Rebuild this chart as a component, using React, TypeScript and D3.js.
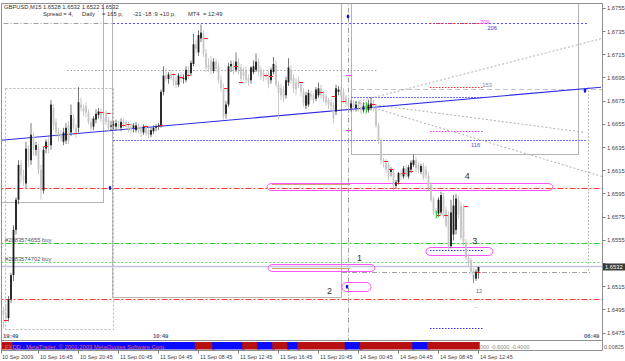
import React from 'react';
import * as d3 from 'd3';

const W = 625;
const H = 361;

// ---- OHLC data (GBPUSD M15, bars from 10 Sep 12:45 to 14 Sep 12:45) ----
const opens = [
1.6504,1.6499,1.6495,1.6491,1.6488,1.6504,1.6525,1.6564,1.6590,1.6620,
1.6611,1.6604,1.6634,1.6624,1.6644,1.6633,1.6634,1.6616,1.6598,1.6634,
1.6640,1.6637,1.6669,1.6657,1.6648,1.6646,1.6640,1.6641,1.6654,1.6648,
1.6660,1.6652,1.6652,1.6672,1.6669,1.6671,1.6665,1.6657,1.6653,1.6659,
1.6663,1.6666,1.6660,1.6664,1.6659,1.6653,1.6654,1.6653,1.6655,1.6652,
1.6657,1.6657,1.6654,1.6653,1.6652,1.6650,1.6654,1.6652,1.6648,1.6653,
1.6650,1.6646,1.6649,1.6652,1.6653,1.6654,1.6683,1.6697,1.6694,1.6698,
1.6695,1.6692,1.6689,1.6697,1.6694,1.6693,1.6702,1.6699,1.6707,1.6724,
1.6717,1.6729,1.6733,1.6716,1.6706,1.6710,1.6701,1.6709,1.6705,1.6693,
1.6686,1.6664,1.6672,1.6705,1.6707,1.6702,1.6709,1.6704,1.6700,1.6702,
1.6695,1.6693,1.6700,1.6702,1.6709,1.6702,1.6699,1.6697,1.6698,1.6693,
1.6700,1.6706,1.6689,1.6686,1.6685,1.6680,1.6691,1.6702,1.6695,1.6691,
1.6693,1.6689,1.6683,1.6671,1.6672,1.6681,1.6680,1.6677,1.6680,1.6686,
1.6681,1.6679,1.6676,1.6674,1.6672,1.6666,1.6683,1.6685,1.6683,1.6678,
1.6674,1.6669,1.6673,1.6669,1.6672,1.6670,1.6667,1.6671,1.6667,1.6669,
1.6673,1.6669,1.6654,1.6641,1.6624,1.6622,1.6620,1.6614,1.6614,1.6602,
1.6605,1.6613,1.6610,1.6617,1.6610,1.6616,1.6620,1.6624,1.6620,1.6614,
1.6619,1.6616,1.6611,1.6603,1.6591,1.6581,1.6578,1.6579,1.6593,1.6581,
1.6577,1.6550,1.6560,1.6564,1.6590,1.6585,1.6584,1.6553,1.6540,1.6538,
1.6529,1.6522,1.6528];
const highs = [
1.6507,1.6502,1.6498,1.6500,1.6507,1.6527,1.6568,1.6592,1.6624,1.6624,
1.6616,1.6640,1.6637,1.6656,1.6648,1.6640,1.6638,1.6620,1.6636,1.6642,
1.6644,1.6676,1.6672,1.6660,1.6652,1.6650,1.6652,1.6656,1.6658,1.6672,
1.6664,1.6655,1.6687,1.6678,1.6672,1.6674,1.6668,1.6660,1.6662,1.6668,
1.6669,1.6669,1.6663,1.6667,1.6661,1.6658,1.6658,1.6659,1.6658,1.6660,
1.6660,1.6659,1.6657,1.6655,1.6656,1.6657,1.6656,1.6654,1.6655,1.6655,
1.6652,1.6652,1.6654,1.6655,1.6656,1.6685,1.6705,1.6703,1.6700,1.6702,
1.6699,1.6696,1.6699,1.6700,1.6698,1.6705,1.6705,1.6710,1.6733,1.6728,
1.6736,1.6741,1.6736,1.6720,1.6712,1.6714,1.6712,1.6712,1.6708,1.6697,
1.6690,1.6675,1.6708,1.6710,1.6710,1.6717,1.6712,1.6707,1.6704,1.6705,
1.6698,1.6705,1.6710,1.6716,1.6712,1.6705,1.6702,1.6700,1.6701,1.6704,
1.6713,1.6710,1.6692,1.6690,1.6688,1.6696,1.6712,1.6706,1.6698,1.6695,
1.6696,1.6692,1.6686,1.6683,1.6685,1.6684,1.6682,1.6687,1.6691,1.6689,
1.6684,1.6681,1.6678,1.6677,1.6674,1.6689,1.6688,1.6688,1.6686,1.6680,
1.6677,1.6676,1.6676,1.6675,1.6675,1.6673,1.6674,1.6676,1.6676,1.6678,
1.6676,1.6671,1.6656,1.6643,1.6626,1.6625,1.6622,1.6618,1.6616,1.6607,
1.6614,1.6616,1.6619,1.6620,1.6620,1.6624,1.6629,1.6627,1.6622,1.6621,
1.6622,1.6619,1.6614,1.6605,1.6593,1.6583,1.6592,1.6597,1.6596,1.6584,
1.6580,1.6590,1.6594,1.6595,1.6593,1.6588,1.6586,1.6556,1.6543,1.6540,
1.6531,1.6530,1.6532];
const lows = [
1.6495,1.6490,1.6479,1.6484,1.6485,1.6501,1.6520,1.6560,1.6586,1.6604,
1.6602,1.6600,1.6618,1.6620,1.6628,1.6628,1.6612,1.6590,1.6595,1.6630,
1.6630,1.6633,1.6650,1.6644,1.6640,1.6640,1.6637,1.6638,1.6638,1.6645,
1.6650,1.6643,1.6648,1.6666,1.6662,1.6661,1.6655,1.6648,1.6650,1.6656,
1.6660,1.6657,1.6652,1.6654,1.6648,1.6650,1.6651,1.6650,1.6649,1.6649,
1.6652,1.6650,1.6648,1.6647,1.6648,1.6648,1.6647,1.6644,1.6646,1.6645,
1.6643,1.6644,1.6647,1.6649,1.6650,1.6652,1.6680,1.6692,1.6690,1.6693,
1.6688,1.6686,1.6687,1.6691,1.6690,1.6691,1.6694,1.6697,1.6705,1.6716,
1.6714,1.6726,1.6713,1.6700,1.6700,1.6698,1.6699,1.6700,1.6690,1.6683,
1.6659,1.6660,1.6670,1.6700,1.6698,1.6700,1.6698,1.6690,1.6693,1.6690,
1.6688,1.6690,1.6698,1.6700,1.6697,1.6693,1.6692,1.6693,1.6686,1.6690,
1.6698,1.6687,1.6659,1.6676,1.6674,1.6677,1.6688,1.6690,1.6682,1.6680,
1.6686,1.6679,1.6670,1.6668,1.6670,1.6676,1.6673,1.6675,1.6678,1.6677,
1.6674,1.6671,1.6668,1.6666,1.6656,1.6663,1.6680,1.6678,1.6673,1.6670,
1.6667,1.6666,1.6666,1.6666,1.6666,1.6664,1.6665,1.6663,1.6665,1.6667,
1.6666,1.6652,1.6638,1.6620,1.6618,1.6613,1.6607,1.6610,1.6597,1.6599,
1.6603,1.6607,1.6608,1.6609,1.6608,1.6613,1.6618,1.6614,1.6613,1.6612,
1.6607,1.6608,1.6598,1.6588,1.6577,1.6574,1.6575,1.6577,1.6574,1.6566,
1.6547,1.6548,1.6555,1.6560,1.6574,1.6555,1.6550,1.6538,1.6533,1.6526,
1.6519,1.6520,1.6522];
const closes = [
1.6499,1.6495,1.6491,1.6488,1.6504,1.6525,1.6564,1.6590,1.6620,1.6611,
1.6607,1.6634,1.6624,1.6646,1.6633,1.6637,1.6616,1.6598,1.6633,1.6640,
1.6636,1.6672,1.6654,1.6648,1.6646,1.6643,1.6648,1.6652,1.6641,1.6663,
1.6652,1.6647,1.6674,1.6669,1.6666,1.6665,1.6657,1.6652,1.6660,1.6664,
1.6666,1.6660,1.6655,1.6657,1.6652,1.6654,1.6655,1.6656,1.6653,1.6657,
1.6655,1.6653,1.6651,1.6650,1.6654,1.6654,1.6649,1.6648,1.6653,1.6647,
1.6646,1.6650,1.6652,1.6653,1.6654,1.6683,1.6697,1.6694,1.6698,1.6695,
1.6692,1.6689,1.6697,1.6694,1.6695,1.6702,1.6697,1.6708,1.6724,1.6720,
1.6732,1.6734,1.6716,1.6704,1.6703,1.6701,1.6709,1.6703,1.6693,1.6686,
1.6662,1.6672,1.6705,1.6707,1.6702,1.6709,1.6702,1.6694,1.6697,1.6693,
1.6691,1.6704,1.6705,1.6709,1.6700,1.6697,1.6695,1.6696,1.6690,1.6702,
1.6707,1.6689,1.6682,1.6680,1.6678,1.6693,1.6704,1.6693,1.6686,1.6685,
1.6689,1.6683,1.6673,1.6680,1.6682,1.6679,1.6676,1.6685,1.6686,1.6680,
1.6677,1.6674,1.6672,1.6671,1.6660,1.6686,1.6685,1.6680,1.6676,1.6673,
1.6671,1.6673,1.6669,1.6672,1.6669,1.6667,1.6671,1.6669,1.6672,1.6673,
1.6669,1.6654,1.6641,1.6624,1.6622,1.6616,1.6610,1.6616,1.6602,1.6605,
1.6613,1.6611,1.6617,1.6611,1.6618,1.6622,1.6624,1.6617,1.6616,1.6619,
1.6609,1.6611,1.6600,1.6590,1.6579,1.6578,1.6590,1.6594,1.6576,1.6568,
1.6550,1.6579,1.6585,1.6591,1.6577,1.6557,1.6553,1.6540,1.6536,1.6528,
1.6522,1.6528,1.6532];

// small red markers (bar, price) and green markers (bar, from, to)
const redMarkBars = [3,19,31,41,44,50,52,59,65,70,73,76,83,91,95,97,107,109,121,129,134,138,150,155,157,160,162,165,176,179,187,192];
const redMarkPrices = [1.6486,1.6636,1.6647,1.6665,1.6664,1.6654,1.6655,1.6653,1.6654,1.6698,1.6695,1.6697,1.6729,1.6686,1.6705,1.6691,1.6697,1.6696,1.6691,1.6682,1.6679,1.6675,1.6672,1.6623,1.6616,1.6604,1.6613,1.6614,1.6576,1.6576,1.6584,1.6527];
const greenMarks = [[147, 1.6674, 1.6665], [175, 1.6580, 1.6574], [190, 1.6525, 1.6518]];

// axis labels
const priceTicks = [1.6755,1.6735,1.6715,1.6695,1.6675,1.6655,1.6635,1.6615,1.6595,1.6575,1.6555,1.6535,1.6515,1.6495,1.6475];
const timeTickBars = [0,16,32,48,64,80,96,112,128,144,160,176,192];
const timeTickLabels = ["10 Sep 2009","10 Sep 16:45","10 Sep 20:45","11 Sep 00:45","11 Sep 04:45","11 Sep 08:45","11 Sep 12:45","11 Sep 16:45","11 Sep 20:45","14 Sep 00:45","14 Sep 04:45","14 Sep 08:45","14 Sep 12:45"];

// levels and objects
const bidPrice = 1.6532;
const orderPrices = [1.6552, 1.6536];
const orderLabels = ["#2083574655 buy", "#2083574702 buy"];
const redLevels = [1.6600, 1.6504];
const trendBars = [0, 241];
const trendPrices = [1.6641, 1.6687];
const fanOrigin = [142.6, 1.6674];
const fanEndBars = [241.4, 234.6, 241.4];
const fanEndPrices = [1.6729, 1.6648, 1.6610];
const boxes = [[-3, 1.6770, 41.8, 1.6587], [45.8, 1.6770, 137.4, 1.6505], [141, 1.6770, 231.8, 1.6629]];
const dashedBox = [2.6, 1.6686, 45.8, 1.6478];
const ellipses = [[107.4, 1.6604, 221.8, 1.6598], [107.8, 1.6534, 150.6, 1.6528], [137.4, 1.6519, 149, 1.6511], [171, 1.6549, 197.8, 1.6542]];
const ellipseLabels = ["4", "1", "2", "3"];
const ellipseLabelBars = [186.5, 143.4, 131.4, 189.5];
const ellipseLabelPrices = [1.6608, 1.6537, 1.6509, 1.6552];
const arrowBars = [139.8, 44.6, 139.4, 234.6];
const arrowPrices = [1.6748, 1.6600, 1.6515, 1.6684];
const indSegments = [[0,6,'r'],[6,79,'b'],[79,86,'r'],[86,98,'b'],[98,104,'r'],[104,110,'b'],[110,116,'r'],[116,120,'b'],[120,139,'r'],[139,145,'b'],[145,166,'r'],[166,172,'b'],[172,192,'r']];

const FONT = '"Liberation Sans", Arial, sans-serif';

export default function App() {
  const x = d3.scaleLinear().domain([0, 192]).range([-1.5, 478.5]);
  const y = d3.scaleLinear().domain([1.6475, 1.6755]).range([333.1, 8.3]);
  const L = 1.5, R = 602.5, T = 3.5, B = 340.5, IB = 350.5;
  const xR = x.invert(R);
  const crisp = (v: number) => Math.round(v - 0.5) + 0.5;
  const seg = (b1: number, p1: number, b2: number, p2: number, stroke: string, dash?: string, sw = 1, key?: any) => {
    let X1 = x(b1), X2 = x(b2), Y1 = y(p1), Y2 = y(p2);
    if (p1 === p2) { Y1 = Y2 = crisp(Y1); }
    if (b1 === b2) { X1 = X2 = crisp(X1); }
    return <line key={key} x1={X1} y1={Y1} x2={X2} y2={Y2} stroke={stroke} strokeWidth={sw} strokeDasharray={dash} />;
  };
  const shortFrom = 172.6, shortTo = 193.8;
  const trendLine = d3.line<[number, number]>().x(d => x(d[0])).y(d => y(d[1]));
  const bidY = y(bidPrice);

  return (
    <svg width={W} height={H} style={{ position: 'absolute', left: 0, top: 0, background: '#fff' }} fontFamily={FONT}>
      <defs>
        <clipPath id="plot"><rect x={L} y={T} width={R - L} height={B - T} /></clipPath>
      </defs>
      <rect x={0} y={0} width={W} height={H} fill="#fff" />
      <g clipPath="url(#plot)">
        {/* gray boxes */}
        {boxes.map((b, i) => (
          <rect key={'bx' + i} x={crisp(x(b[0]))} y={crisp(y(b[1]))} width={Math.round(x(b[2]) - x(b[0]))} height={Math.round(y(b[3]) - y(b[1]))} fill="none" stroke="#b4b4b4" strokeWidth={1} />
        ))}
        <rect x={crisp(x(dashedBox[0]))} y={crisp(y(dashedBox[1]))} width={Math.round(x(dashedBox[2]) - x(dashedBox[0]))} height={Math.round(y(dashedBox[3]) - y(dashedBox[1]))} fill="none" stroke="#b4b4b4" strokeDasharray="2,2" />
        {seg(27.4, 1.6701, 151.8, 1.6701, '#a8a8a8', '1.5,2')}
        {/* verticals */}
        {seg(139.8, 1.6790, 139.8, 1.6440, '#a0a0a0', '5,2,1,2')}
        {seg(235.8, 1.6687, 235.8, 1.6527, '#a8a8a8', '1.5,2')}
        {seg(137.4, 1.6527, 236.6, 1.6527, '#a0a0a0', '5,2,1,2')}
        {/* top levels */}
        {seg(-2, 1.6742, 45.8, 1.6742, '#a0a0a0', '5,2,1,2')}
        {seg(45.8, 1.6742, 235.4, 1.6742, '#5050ff', '2,2')}
        {seg(45.8, 1.6641, 235.4, 1.6641, '#7070ff', '2,1')}
        {seg(141, 1.6678, 193.8, 1.6678, '#7070ff', '2,1')}
        {seg(141, 1.6685, xR, 1.6685, '#c4c4c4', '5,3', 1)}
        {seg(shortFrom, 1.6742, shortTo, 1.6742, '#ff3030', '1.5,1.5')}
        {seg(shortFrom, 1.6687, shortTo, 1.6687, '#ff3030', '1.5,1.5')}
        {seg(shortFrom, 1.6649, shortTo, 1.6649, '#ff30ff', '1.5,1.5')}
        {seg(shortFrom, 1.6546, shortTo, 1.6546, '#3030ff', '1.5,1.5')}
        {seg(shortFrom, 1.6479, shortTo, 1.6479, '#3030ff', '1.5,1.5')}
        {/* fan */}
        {fanEndBars.map((b, i) => seg(fanOrigin[0], fanOrigin[1], b, fanEndPrices[i], '#b0b0b0', '2,2', 1, 'fan' + i))}
        {/* red levels */}
        {redLevels.map((p, i) => seg(-2, p, xR, p, '#ff3c3c', '6,2,2,2', 1, 'rl' + i))}
        {/* order levels */}
        {seg(-2, orderPrices[0], xR, orderPrices[0], '#2ccc2c', '6,2,2,2')}
        {seg(-2, orderPrices[1], xR, orderPrices[1], '#66dd66', '2,2')}
        {orderLabels.map((t, i) => (
          <text key={'ol' + i} x={5} y={y(orderPrices[i]) - 1.5} fontSize={5.8} fill="#555">{t}</text>
        ))}
        {/* bid line */}
        {seg(-2, bidPrice, xR, bidPrice, '#c4c4dc', undefined, 1.6)}
        {/* trend line */}
        <path d={trendLine(trendBars.map((b, i) => [b, trendPrices[i]]) as [number, number][]) || ''} stroke="#2c2ce8" strokeWidth={1.1} fill="none" />
        {/* ellipses */}
        {ellipses.map((e, i) => (
          <rect key={'el' + i} x={x(e[0])} y={crisp(y(e[1]))} width={x(e[2]) - x(e[0])} height={Math.round(y(e[3]) - y(e[1]))} rx={5} ry={4} fill="none" stroke="#ff50ff" strokeWidth={1} />
        ))}
        {seg(109.4, 1.6603, 140.6, 1.6603, '#d0a070', undefined, 1)}
        {seg(109.4, 1.6531, 140.6, 1.6531, '#d0a070', undefined, 1)}
        {/* magenta ticks */}
        {seg(139.0, 1.6697, 141.0, 1.6697, '#ff40ff', undefined, 1)}
        {seg(139.0, 1.6650, 141.0, 1.6650, '#ff40ff', undefined, 1)}
        {/* candles */}
        {opens.map((o, i) => {
          const c = closes[i];
          const bull = c >= o;
          const top = y(Math.max(o, c));
          const h = Math.max(0.7, y(Math.min(o, c)) - top);
          return (
            <g key={'c' + i}>
              <line x1={x(i)} x2={x(i)} y1={y(highs[i])} y2={y(lows[i])} stroke={bull ? '#555' : '#bdbdbd'} strokeWidth={0.8} />
              <rect x={x(i) - 0.9} y={top} width={1.8} height={h} fill={bull ? '#1c1c1c' : '#c6c6c6'} />
            </g>
          );
        })}
        {redMarkBars.map((b, i) => seg(b - 0.8, redMarkPrices[i], b + 0.8, redMarkPrices[i], '#ff2020', undefined, 1, 'rm' + i))}
        {greenMarks.map((g, i) => seg(g[0], g[1], g[0], g[2], '#20d020', undefined, 0.9, 'gm' + i))}
        {/* arrows */}
        {arrowBars.map((b, i) => (
          <ellipse key={'ar' + i} cx={x(b)} cy={y(arrowPrices[i])} rx={1.3} ry={2} fill="#1010e0" />
        ))}
        {/* texts on chart */}
        <text x={x(192.6)} y={y(1.6742) + 1} fontSize={5.8} fill="#ff30ff">209</text>
        <text x={x(195.5)} y={y(1.6742) + 6.5} fontSize={5.8} fill="#4040c0">206</text>
        <text x={x(193.5)} y={y(1.6685) - 3} fontSize={5.8} fill="#888">153</text>
        <text x={x(189)} y={y(1.6641) + 6} fontSize={5.8} fill="#5050d0">116</text>
        {ellipseLabels.map((t, i) => (
          <text key={'elt' + i} x={x(ellipseLabelBars[i])} y={y(ellipseLabelPrices[i])} fontSize={9} fill="#333">{t}</text>
        ))}
        <text x={x(191)} y={y(1.6510)} fontSize={5.5} fill="#666">12</text>
        <text x={x(190.2)} y={y(1.6497)} fontSize={5.5} fill="#666">...</text>
        {/* bottom time stamps */}
        <text x={3} y={338} fontSize={6} fontWeight="bold" fill="#55607a">19:49</text>
        <text x={153} y={338} fontSize={6} fontWeight="bold" fill="#55607a">10:49</text>
        <text x={584} y={338} fontSize={6} fontWeight="bold" fill="#55607a">06:49</text>
      </g>

      {/* header */}
      <text x={4} y={8.5} fontSize={5.8} fill="#333">GBPUSD,M15  1.6528 1.6532 1.6522 1.6532</text>
      <text y={15.5} fontSize={5.8} fill="#333">
        <tspan x={43}>Spread = 4,</tspan>
        <tspan x={82}>Daily</tspan>
        <tspan x={102}>= 165 p,</tspan>
        <tspan x={133}>-21 -18 :9 +10 p,</tspan>
        <tspan x={188}>MT4</tspan>
        <tspan x={203}>= 12:49</tspan>
      </text>

      {/* indicator window */}
      {indSegments.map((s, i) => {
        const x0 = Math.max(L, x(s[0] as number) - 1.25);
        return <rect key={'ind' + i} x={x0} y={342} width={x(s[1] as number) + 1.25 - x0} height={7.5} fill={s[2] === 'r' ? '#b81010' : '#0a0aff'} />;
      })}
      <text x={5} y={348.5} fontSize={5.8} fill="#e06060">FXDD - MetaTrader, © 2001-2009 MetaQuotes Software Corp.</text>
      <text x={480} y={348.5} fontSize={5.5} fill="#888">000 -0.6000 -0.4000</text>

      {/* frame */}
      <line x1={L} x2={L} y1={T} y2={IB} stroke="#909090" />
      <line x1={L} x2={R} y1={T} y2={T} stroke="#909090" />
      <line x1={R} x2={R} y1={T} y2={IB} stroke="#909090" />
      <line x1={L} x2={R} y1={B} y2={B} stroke="#909090" />
      <line x1={L} x2={R} y1={IB} y2={IB} stroke="#909090" />

      {/* right axis */}
      {priceTicks.map((p, i) => (
        <g key={'pt' + i}>
          <line x1={R} x2={R + 3} y1={crisp(y(p))} y2={crisp(y(p))} stroke="#808080" />
          {Math.abs(y(p) - bidY) > 6 && (
            <text x={607} y={y(p) + 2} fontSize={5.8} fill="#444">{d3.format('.4f')(p)}</text>
          )}
        </g>
      ))}
      <rect x={603} y={bidY - 3.5} width={22} height={7} fill="#3a3a3a" />
      <text x={605} y={bidY + 2} fontSize={5.8} fill="#fff">{d3.format('.4f')(bidPrice)}</text>
      <text x={604} y={348.5} fontSize={5.5} fill="#555">0.00825</text>

      {/* time axis */}
      {timeTickBars.map((b, i) => (
        <g key={'tt' + i}>
          <line x1={crisp(Math.max(L, x(b)))} x2={crisp(Math.max(L, x(b)))} y1={IB} y2={IB + 3} stroke="#808080" />
          <text x={Math.max(2, x(b) + 1.5)} y={358.5} fontSize={5.5} fill="#444">{timeTickLabels[i]}</text>
        </g>
      ))}
    </svg>
  );
}
